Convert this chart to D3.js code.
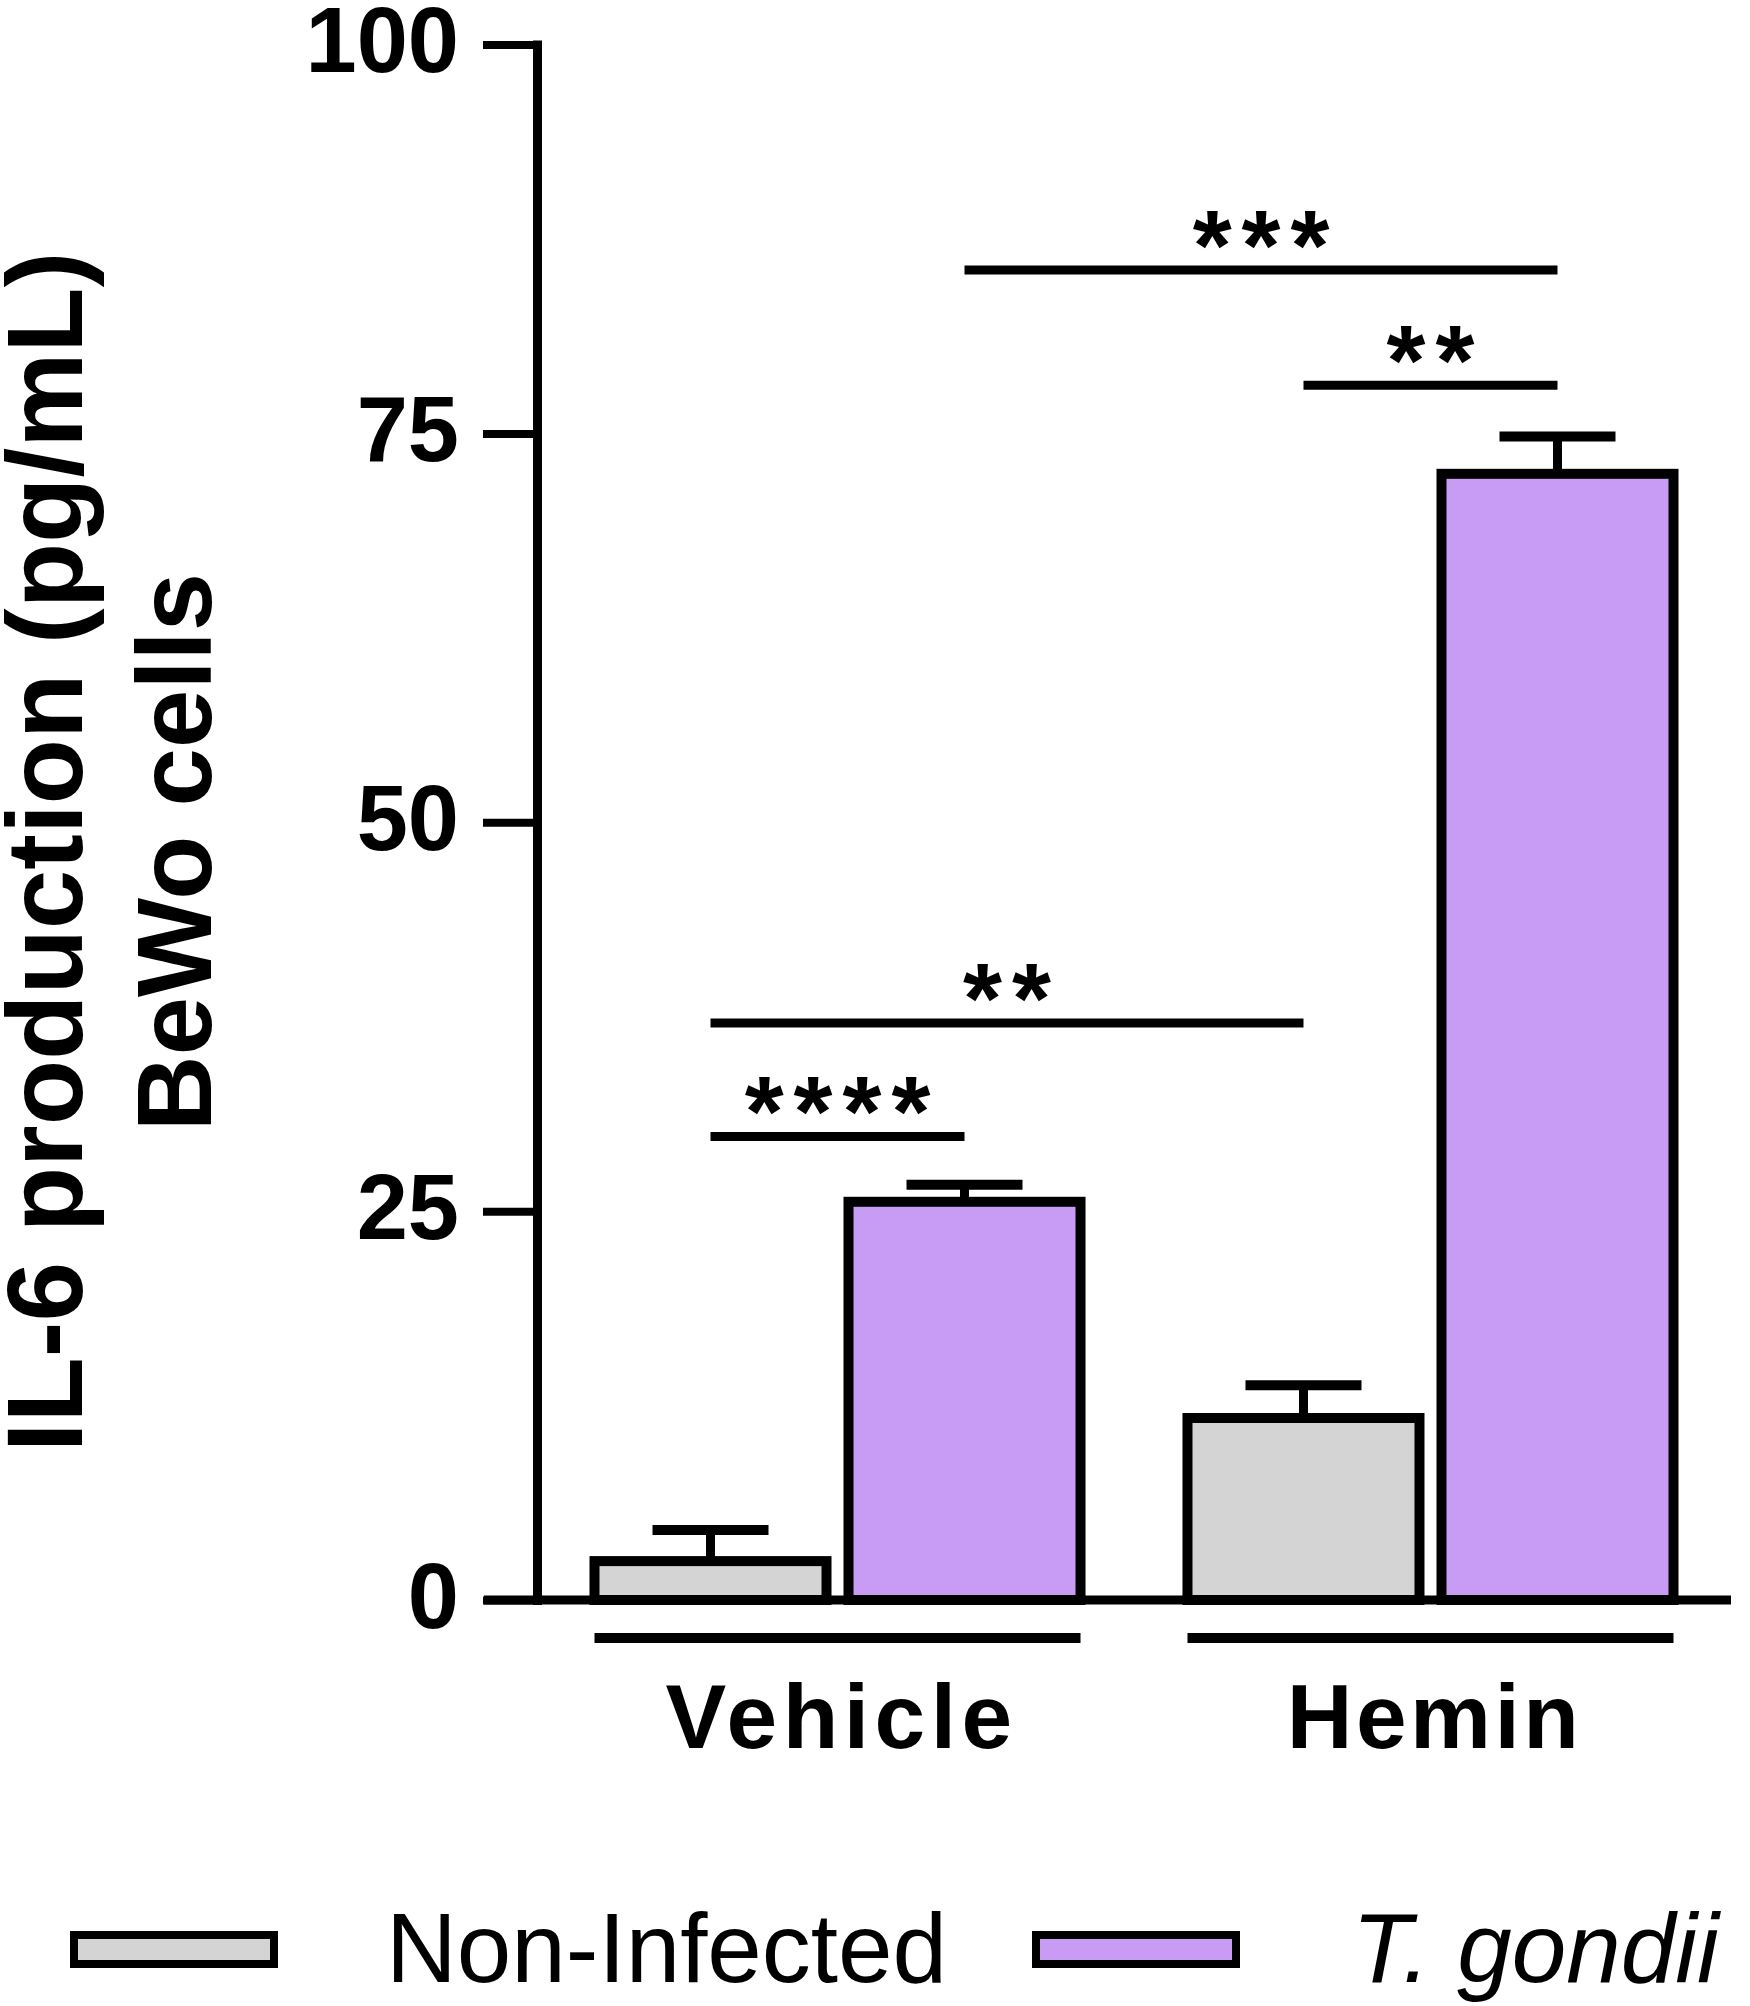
<!DOCTYPE html>
<html>
<head>
<meta charset="utf-8">
<script src="https://cdn.jsdelivr.net/npm/d3@7"></script>
<style>
  body { margin: 0; background: #fff; }
  svg { display: block; font-family: "Liberation Sans", Arial, sans-serif; }
</style>
</head>
<body>
<div id="output"></div>
<script>
var groups = ['Vehicle', 'Hemin'];
var series = ['Non-Infected', 'T. gondii'];
var colors = ['#d4d4d4', '#c89bf5'];
// mean IL-6 (pg/mL) per group, per series
var means = {
  'Vehicle': [2.5, 25.6],
  'Hemin': [11.7, 72.4]
};
// top of the error bar (mean + SEM)
var errTops = {
  'Vehicle': [4.5, 26.7],
  'Hemin': [13.8, 74.8]
};
var yTicks = [0, 25, 50, 75, 100];
// significance brackets: from [group, series] to [group, series], at height, label
var sigs = [
  { from: ['Vehicle', 0], to: ['Vehicle', 1], y: 29.8, label: '****' },
  { from: ['Vehicle', 0], to: ['Hemin', 0], y: 37.1, label: '**' },
  { from: ['Hemin', 0], to: ['Hemin', 1], y: 78.1, label: '**' },
  { from: ['Vehicle', 1], to: ['Hemin', 1], y: 85.5, label: '***' }
];

var width = 1750;
var height = 2006;
var stroke = 9;

var svg = d3.select('#output')
  .append('svg')
  .attr('width', width)
  .attr('height', height);

var yScale = d3.scaleLinear()
  .domain([0, 100])
  .range([1600, 44.5]);

var xGroup = d3.scaleBand()
  .domain(groups)
  .range([594.5, 1673.5])
  .paddingInner(0.1804)
  .paddingOuter(0);

var xSeries = d3.scaleBand()
  .domain(d3.range(series.length))
  .range([0, xGroup.bandwidth()])
  .paddingInner(0.0866)
  .paddingOuter(0);

function barCenter(g, s) {
  return xGroup(g) + xSeries(s) + xSeries.bandwidth() / 2;
}

// Y-axis
var yAxis = d3.axisLeft(yScale)
  .tickValues(yTicks)
  .tickSize(54)
  .tickSizeOuter(0)
  .tickPadding(0)
  .tickFormat(d3.format('d'));

var yAxisG = svg.append('g')
  .attr('transform', 'translate(537, 0)')
  .call(yAxis);

yAxisG.select('.domain')
  .attr('stroke', '#000')
  .attr('stroke-width', stroke)
  .attr('stroke-linecap', 'square');
yAxisG.selectAll('.tick line')
  .attr('stroke', '#000')
  .attr('stroke-width', 8);
yAxisG.selectAll('.tick text')
  .attr('x', -78)
  .attr('dy', null)
  .attr('y', 27)
  .attr('fill', '#000')
  .style('font-family', '"Liberation Sans", Arial, sans-serif')
  .style('font-size', '92px')
  .style('font-weight', 'bold');

// Bars
var rows = [];
groups.forEach(function(g) {
  series.forEach(function(s, i) {
    rows.push({ group: g, s: i, value: means[g][i], err: errTops[g][i] });
  });
});

// error bars first, so the bar outline sits over the stem
var errG = svg.append('g');
errG.selectAll('line.stem')
  .data(rows)
  .enter()
  .append('line')
  .attr('class', 'stem')
  .attr('x1', (d) => barCenter(d.group, d.s))
  .attr('x2', (d) => barCenter(d.group, d.s))
  .attr('y1', (d) => yScale(d.value))
  .attr('y2', (d) => yScale(d.err))
  .attr('stroke', '#000')
  .attr('stroke-width', stroke);

errG.selectAll('line.cap')
  .data(rows)
  .enter()
  .append('line')
  .attr('class', 'cap')
  .attr('x1', (d) => barCenter(d.group, d.s) - 58)
  .attr('x2', (d) => barCenter(d.group, d.s) + 58)
  .attr('y1', (d) => yScale(d.err))
  .attr('y2', (d) => yScale(d.err))
  .attr('stroke', '#000')
  .attr('stroke-width', 10);

svg.append('g')
  .selectAll('rect')
  .data(rows)
  .enter()
  .append('rect')
  .attr('x', (d) => xGroup(d.group) + xSeries(d.s))
  .attr('y', (d) => yScale(d.value))
  .attr('width', xSeries.bandwidth())
  .attr('height', (d) => yScale(0) - yScale(d.value))
  .attr('fill', (d) => colors[d.s])
  .attr('stroke', '#000')
  .attr('stroke-width', 10);

// X baseline, over the bar bottoms
svg.append('line')
  .attr('x1', 484)
  .attr('x2', 1731)
  .attr('y1', yScale(0))
  .attr('y2', yScale(0))
  .attr('stroke', '#000')
  .attr('stroke-width', stroke);

// Group underlines and labels
svg.append('g')
  .selectAll('line')
  .data(groups)
  .enter()
  .append('line')
  .attr('x1', (d) => xGroup(d))
  .attr('x2', (d) => xGroup(d) + xGroup.bandwidth())
  .attr('y1', 1638)
  .attr('y2', 1638)
  .attr('stroke', '#000')
  .attr('stroke-width', 10);

svg.append('g')
  .selectAll('text')
  .data(groups)
  .enter()
  .append('text')
  .attr('x', (d) => xGroup(d) + xGroup.bandwidth() / 2 + 4)
  .attr('y', 1748)
  .attr('text-anchor', 'middle')
  .style('font-size', '91px')
  .style('font-weight', 'bold')
  .style('letter-spacing', (d, i) => i === 0 ? '5.5px' : '3.5px')
  .text((d) => d);

// Significance brackets
var sigG = svg.append('g');
sigG.selectAll('line')
  .data(sigs)
  .enter()
  .append('line')
  .attr('x1', (d) => barCenter(d.from[0], d.from[1]))
  .attr('x2', (d) => barCenter(d.to[0], d.to[1]))
  .attr('y1', (d) => yScale(d.y))
  .attr('y2', (d) => yScale(d.y))
  .attr('stroke', '#000')
  .attr('stroke-width', 9);

sigG.selectAll('text')
  .data(sigs)
  .enter()
  .append('text')
  .attr('x', (d) => (barCenter(d.from[0], d.from[1]) + barCenter(d.to[0], d.to[1])) / 2 + 5)
  .attr('y', (d) => yScale(d.y) + 10)
  .attr('text-anchor', 'middle')
  .style('font-size', '100px')
  .style('font-weight', 'bold')
  .style('letter-spacing', '10px')
  .text((d) => d.label);

// Y title, two lines
var titleLines = ['IL-6 production (pg/mL)', 'BeWo cells'];
var titleBase = [82, 211];
var titleSize = [107, 105];
svg.append('g')
  .selectAll('text')
  .data(titleLines)
  .enter()
  .append('text')
  .attr('transform', (d, i) => 'translate(' + titleBase[i] + ', 852) rotate(-90)')
  .attr('text-anchor', 'middle')
  .style('font-size', (d, i) => titleSize[i] + 'px')
  .style('font-weight', 'bold')
  .text((d) => d);

// Legend
var legendBoxX = [74, 1036];
var legendTextX = [386, 1352];
var legend = svg.append('g')
  .selectAll('g')
  .data(series)
  .enter()
  .append('g');

legend.append('rect')
  .attr('x', (d, i) => legendBoxX[i])
  .attr('y', 1935)
  .attr('width', 200)
  .attr('height', 29)
  .attr('fill', (d, i) => colors[i])
  .attr('stroke', '#000')
  .attr('stroke-width', 8);

legend.append('text')
  .attr('x', (d, i) => legendTextX[i])
  .attr('y', 1982)
  .style('font-size', '98px')
  .style('font-style', (d, i) => i === 1 ? 'italic' : 'normal')
  .text((d) => d);
</script>
</body>
</html>
